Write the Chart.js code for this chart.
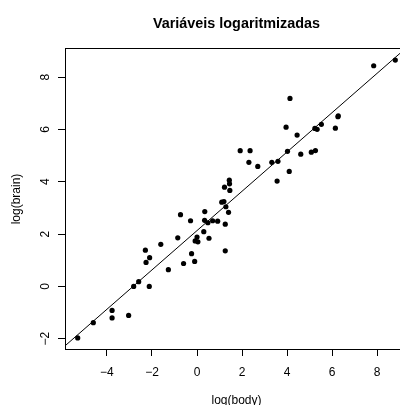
<!DOCTYPE html>
<html>
<head>
<meta charset="utf-8">
<script src="https://cdn.jsdelivr.net/npm/chart.js@4/dist/chart.umd.min.js"></script>
<style>
  html, body { margin: 0; padding: 0; background: #fff; overflow: hidden; }
  #wrap { width: 420px; height: 405px; }
</style>
</head>
<body>
<div id="wrap"><canvas id="c" width="420" height="405"></canvas></div>
<script>
// log(body) and log(brain) for the mammals data (natural logs)
const species = ["Arctic fox","Owl monkey","Mountain beaver","Cow","Grey wolf","Goat","Roe deer","Guinea pig","Verbet","Chinchilla","Ground squirrel","Arctic ground squirrel","African giant pouched rat","Lesser short-tailed shrew","Star-nosed mole","Nine-banded armadillo","Tree hyrax","N.A. opossum","Asian elephant","Big brown bat","Donkey","Horse","European hedgehog","Patas monkey","Cat","Galago","Genet","Giraffe","Gorilla","Grey seal","Rock hyrax-a","Human","African elephant","Water opossum","Rhesus monkey","Kangaroo","Yellow-bellied marmot","Golden hamster","Mouse","Little brown bat","Slow loris","Okapi","Rabbit","Sheep","Jaguar","Chimpanzee","Baboon","Desert hedgehog","Giant armadillo","Rock hyrax-b","Raccoon","Rat","E. American mole","Mole rat","Musk shrew","Pig","Echidna","Brazilian tapir","Tenrec","Phalanger","Tree shrew","Red fox"];
const logBody = [1.219,-0.734,0.300,6.142,3.593,3.320,2.697,0.039,1.433,-0.856,-2.293,-0.083,0.000,-5.298,-2.813,1.253,0.693,0.531,7.843,-3.772,5.232,6.256,-0.242,2.303,1.194,-1.609,0.344,6.271,5.333,4.443,-0.288,4.127,8.803,1.253,1.917,3.555,1.399,-2.120,-3.772,-4.605,0.336,5.521,0.916,4.016,4.605,3.954,2.356,-0.598,4.094,1.281,1.456,-1.273,-2.590,-2.104,-3.037,5.258,1.099,5.075,-0.105,0.482,-2.263,1.443];
const logBrain = [3.795,2.741,2.092,6.047,4.783,4.745,4.587,1.705,4.060,1.856,1.386,1.740,1.887,-1.966,0.000,2.380,2.510,1.841,8.434,-1.204,6.038,6.485,1.253,4.745,3.243,1.609,2.862,6.522,6.006,5.784,2.510,7.185,8.650,1.361,5.187,4.025,2.833,0.000,-0.916,-1.386,2.526,6.194,2.493,5.165,5.056,6.087,5.190,0.876,4.394,3.045,3.669,0.642,0.182,1.099,-1.109,5.193,3.219,5.130,0.956,2.434,0.916,3.920];
// fitted line log(brain) ~ log(body), endpoints beyond the plot range
const fitX = [-6, 10];
const fitY = [-2.375, 9.652];
const xTicks = [-4, -2, 0, 2, 4, 6, 8];
const yTicks = [-2, 0, 2, 4, 6, 8];
const xRange = [-5.862, 9.367];
const yRange = [-2.391, 9.075];

const FONT = "'Liberation Sans', Arial, Helvetica, sans-serif";
const fmt = v => (v < 0 ? '\u2212' + Math.abs(v) : String(v));

const points = logBody.map((x, i) => ({ x: x, y: logBrain[i] }));
const fitLine = fitX.map((x, i) => ({ x: x, y: fitY[i] }));

new Chart(document.getElementById('c'), {
  type: 'scatter',
  data: {
    datasets: [
      { data: points, backgroundColor: '#000', borderColor: '#000', pointRadius: 2.6, pointHoverRadius: 2.6, borderWidth: 0 },
      { type: 'line', data: fitLine, showLine: true, borderColor: '#000', borderWidth: 1, pointRadius: 0, fill: false, tension: 0 }
    ]
  },
  options: {
    responsive: false,
    animation: false,
    events: [],
    layout: { padding: { left: 0, right: 12, top: 0, bottom: 0 } },
    plugins: {
      legend: { display: false },
      tooltip: { enabled: false },
      title: {
        display: true,
        fullSize: false,
        text: 'Variáveis logaritmizadas',
        color: '#000',
        font: { family: FONT, size: 14.4, weight: 'bold' },
        padding: { top: 15.4, bottom: 16.3 }
      }
    },
    scales: {
      x: {
        type: 'linear', position: 'bottom',
        min: xRange[0], max: xRange[1],
        afterBuildTicks: s => { s.ticks = xTicks.map(v => ({ value: v })); },
        afterFit: s => { s.height = 56; },
        grid: { display: true, drawOnChartArea: false, drawTicks: true, tickLength: 7, color: '#000', tickColor: '#000' },
        border: { display: true, color: '#000', width: 1 },
        ticks: { color: '#000', font: { family: FONT, size: 12 }, padding: 9.5, maxRotation: 0, minRotation: 0, callback: v => fmt(v) },
        title: { display: true, text: 'log(body)', color: '#000', font: { family: FONT, size: 12 }, padding: { top: 0, bottom: -3 } }
      },
      x2: {
        type: 'linear', position: 'top', display: true,
        min: xRange[0], max: xRange[1],
        afterFit: s => { s.height = 0; },
        grid: { display: true, drawOnChartArea: false, drawTicks: false },
        border: { display: true, color: '#000', width: 1 },
        ticks: { display: false }
      },
      y: {
        type: 'linear', position: 'left',
        min: yRange[0], max: yRange[1],
        afterBuildTicks: s => { s.ticks = yTicks.map(v => ({ value: v })); },
        afterFit: s => { s.width = 65; },
        grid: { display: true, drawOnChartArea: false, drawTicks: true, tickLength: 7, color: '#000', tickColor: '#000' },
        border: { display: true, color: '#000', width: 1 },
        ticks: { color: '#000', font: { family: FONT, size: 12 }, padding: 5, crossAlign: 'center', minRotation: 90, maxRotation: 90, callback: v => fmt(v) },
        title: { display: true, text: 'log(brain)', color: '#000', font: { family: FONT, size: 12 }, padding: { top: 9, bottom: 0 } }
      }
    }
  }
});
</script>
</body>
</html>
